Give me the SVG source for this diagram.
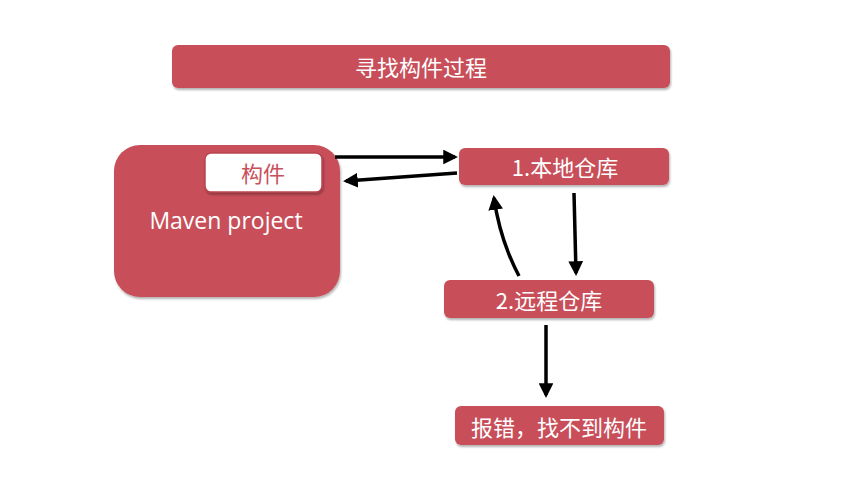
<svg xmlns="http://www.w3.org/2000/svg" width="850" height="480" viewBox="0 0 850 480">
<style>
.box{fill:#C8505A;filter:url(#sh)}
.t{fill:#fff;font-family:"Noto Sans CJK SC","Noto Sans",sans-serif;font-size:22px;text-anchor:middle;dominant-baseline:central}
.c{fill:none;stroke:#000;stroke-width:3.5}
</style>
<defs>
<filter id="sh" x="-10%" y="-20%" width="120%" height="150%"><feDropShadow dx="1" dy="2" stdDeviation="1.2" flood-color="#000" flood-opacity="0.3"/></filter>
<marker id="a" viewBox="0 0 10 10" refX="8" refY="5" markerWidth="4.2" markerHeight="4.2" orient="auto" markerUnits="strokeWidth"><path d="M0,0 L10,5 L0,10 z" fill="#000"/></marker>
</defs>
<rect width="850" height="480" fill="#fff"/>
<g id="title"><rect class="box" x="172" y="45" width="498" height="43" rx="6"/><text class="t" x="421" y="66">寻找构件过程</text></g>
<g id="maven"><rect class="box" x="114" y="145" width="226" height="152" rx="26"/><text class="t" x="226" y="220" style="font-family:'Open Sans','Noto Sans',sans-serif;font-size:23px">Maven project</text>
<g id="artifact"><rect x="205" y="153" width="117" height="39" rx="6" fill="#fff" stroke="#B8454F" stroke-width="1.5" filter="url(#sh)"/><text class="t" x="263" y="172" style="fill:#C8505A">构件</text></g></g>
<g id="local"><rect class="box" x="459" y="148" width="210" height="37" rx="6"/><text class="t" x="565" y="166">1.本地仓库</text></g>
<g id="remote"><rect class="box" x="444" y="280" width="210" height="38" rx="6"/><text class="t" x="549" y="299">2.远程仓库</text></g>
<g id="error"><rect class="box" x="455" y="406" width="209" height="39" rx="6"/><text class="t" x="559" y="426">报错，找不到构件</text></g>
<g id="connectors">
<path class="c" d="M335,157 L455,157" marker-end="url(#a)"/>
<path class="c" d="M457,173 L346,181" marker-end="url(#a)"/>
<path class="c" d="M574,193 L576,273" marker-end="url(#a)"/>
<path class="c" d="M519,276 Q500,240 494,198" marker-end="url(#a)"/>
<path class="c" d="M546,325 L546,395" marker-end="url(#a)"/>
</g>
</svg>
